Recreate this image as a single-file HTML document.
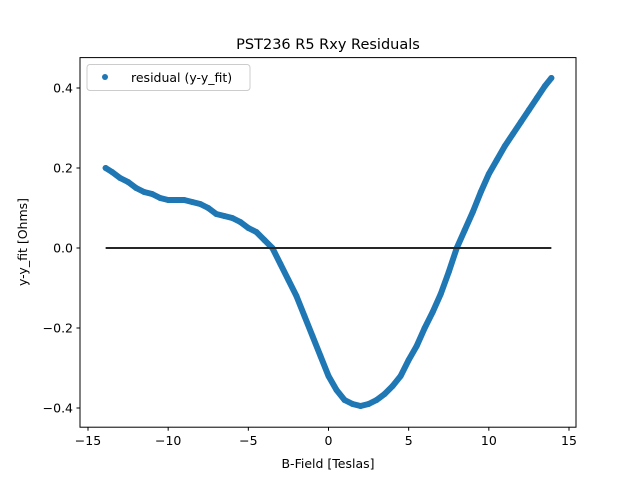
<!DOCTYPE html>
<html><head><meta charset="utf-8"><style>
body{margin:0;background:#fff}
svg{font-family:"DejaVu Sans","Liberation Sans",sans-serif}
</style></head><body>
<svg width="640" height="480" xmlns="http://www.w3.org/2000/svg">
<rect width="640" height="480" fill="#fff"/>
<text x="328" y="49" text-anchor="middle" font-size="14.5">PST236 R5 Rxy Residuals</text>
<g id="plot"></g>
<rect x="80" y="57.6" width="496" height="369.6" fill="none" stroke="#000" stroke-width="1"/>
<text x="328" y="468" text-anchor="middle" font-size="12.5">B-Field [Teslas]</text>
<text transform="translate(27,242) rotate(-90)" text-anchor="middle" font-size="12.5">y-y_fit [Ohms]</text>
<g>
<rect x="87" y="64.5" width="163" height="26" rx="3" fill="#fff" fill-opacity="0.8" stroke="#ccc"/>
<circle cx="105" cy="77" r="3" fill="#1f77b4"/>
<text x="131" y="82" font-size="12.5">residual (y-y_fit)</text>
</g>
</svg>
<script>
const bField=[-13.9,-13.5,-13,-12.5,-12,-11.5,-11,-10.5,-10,-9.5,-9,-8.5,-8,-7.5,-7,-6.5,-6,-5.5,-5,-4.5,-4,-3.5,-3,-2.5,-2,-1.5,-1,-0.5,0,0.5,1,1.5,2,2.5,3,3.5,4,4.5,5,5.5,6,6.5,7,7.5,8,8.5,9,9.5,10,10.5,11,11.5,12,12.5,13,13.5,13.9];
const residual=[0.20,0.19,0.175,0.165,0.15,0.14,0.135,0.125,0.12,0.12,0.12,0.115,0.11,0.10,0.085,0.08,0.075,0.065,0.05,0.04,0.02,0.0,-0.04,-0.08,-0.12,-0.17,-0.22,-0.27,-0.32,-0.355,-0.38,-0.39,-0.395,-0.39,-0.38,-0.365,-0.345,-0.32,-0.28,-0.245,-0.20,-0.16,-0.115,-0.06,0.0,0.045,0.09,0.14,0.185,0.22,0.255,0.285,0.315,0.345,0.375,0.405,0.425];
const xTicks=[-15,-10,-5,0,5,10,15];
const yTicks=[-0.4,-0.2,0.0,0.2,0.4];
const yTickLabels=["\u22120.4","\u22120.2","0.0","0.2","0.4"];
const xTickLabels=["\u221215","\u221210","\u22125","0","5","10","15"];
const zeroLine=[-13.9,13.9];

const NS="http://www.w3.org/2000/svg";
const X=v=>328.5+v*16.033;
const Y=v=>248-v*400;
const g=document.getElementById('plot');
function mk(t,a){const e=document.createElementNS(NS,t);for(const k in a)e.setAttribute(k,a[k]);g.appendChild(e);return e;}

xTicks.forEach((t,i)=>{
  const l=mk('line',{x1:X(t),x2:X(t),y1:427.2,y2:430.7,stroke:'#000'});
  
  
  const tx=mk('text',{x:X(t),y:445,'text-anchor':'middle','font-size':'12.5'});
  tx.textContent=xTickLabels[i];
  
  
});
yTicks.forEach((t,i)=>{
  const l=mk('line',{x1:76.5,x2:80,y1:Y(t),y2:Y(t),stroke:'#000'});
  
  
  const tx=mk('text',{x:73,y:Y(t)+4.5,'text-anchor':'end','font-size':'12.5'});
  tx.textContent=yTickLabels[i];
  
  
});

const pts=bField.map((b,i)=>X(b)+','+Y(residual[i])).join(' ');
const pl=mk('polyline',{points:pts,fill:'none',stroke:'#1f77b4','stroke-width':6,'stroke-linejoin':'round','stroke-linecap':'round'});


bField.forEach((b,i)=>{
  const c=mk('circle',{cx:X(b),cy:Y(residual[i]),r:3,fill:'#1f77b4'});
  
  
});
const zl=mk('line',{x1:X(zeroLine[0]),x2:X(zeroLine[1]),y1:Y(0),y2:Y(0),stroke:'#262626','stroke-width':2});


</script>
</body></html>
